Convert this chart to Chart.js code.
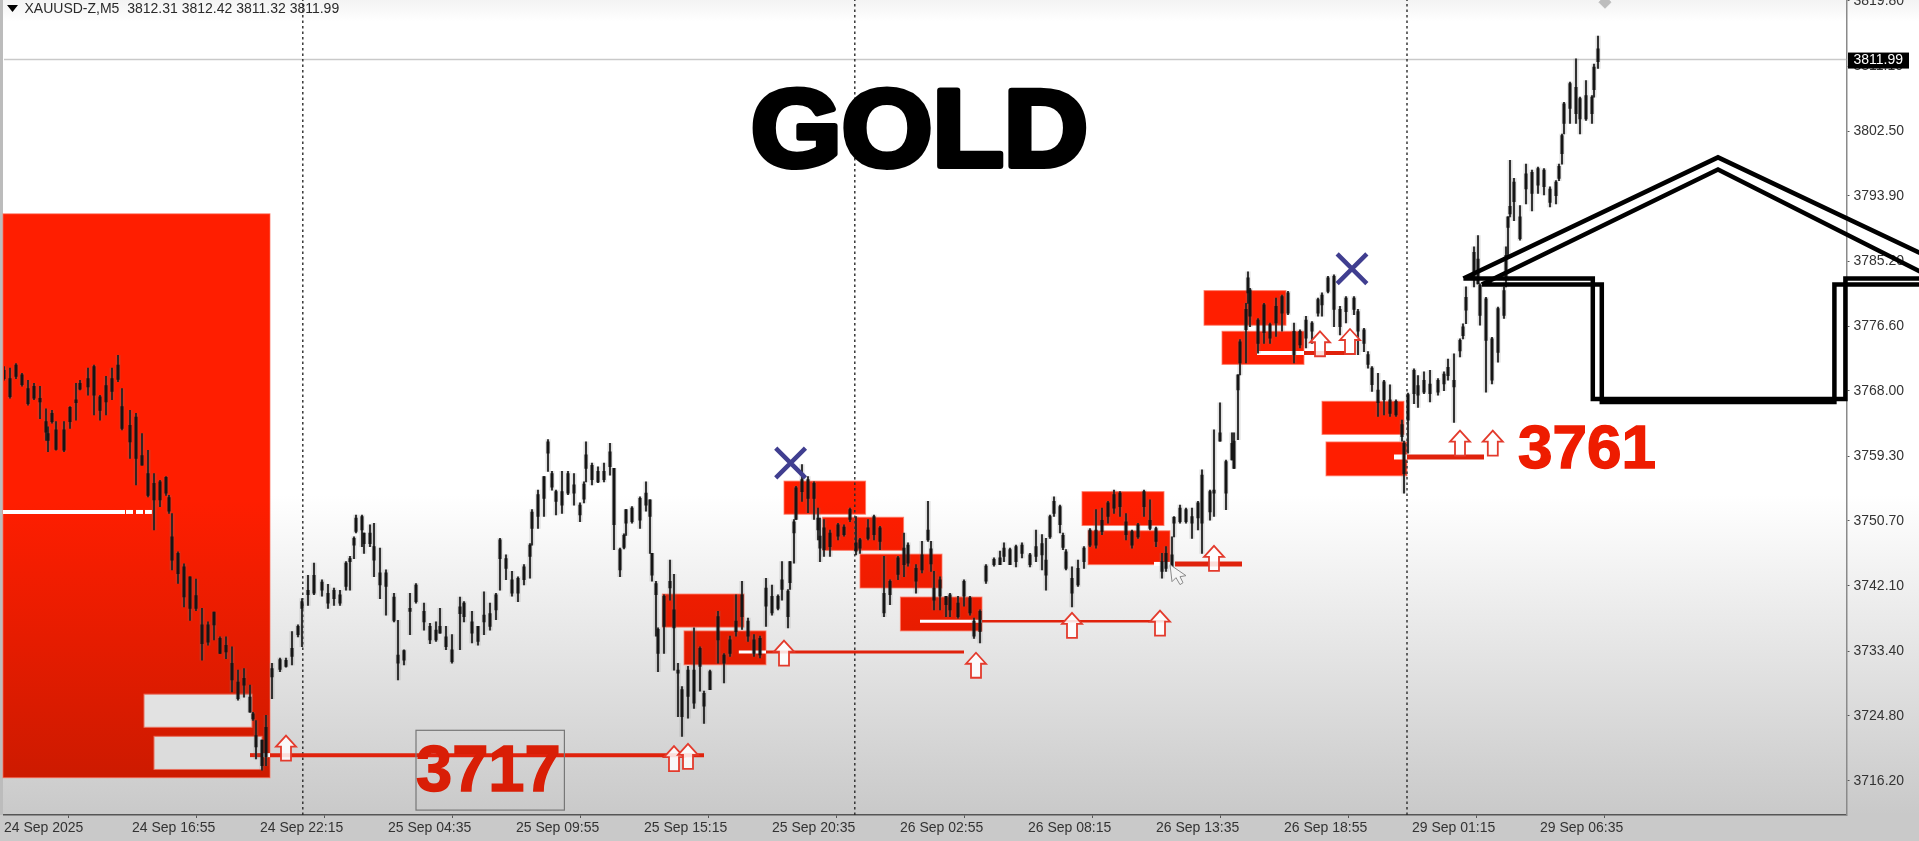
<!DOCTYPE html>
<html><head><meta charset="utf-8"><title>XAUUSD-Z,M5</title>
<style>html,body{margin:0;padding:0;background:#fff}canvas{display:block}</style>
<script src="https://cdn.jsdelivr.net/npm/chart.js@4"></script></head>
<body><canvas id="c" width="1919" height="841"></canvas>
<script>
const candleBars=[0,3,6,9,12,15,18,21,22,24,26,30,33,36,38,42,45,48,51,54,57,59,63,66,69,72,75,78,81,84,87,90,93,96,99,102,105,108,111,114,117,120,123,126,129,131,
134,138,141,144,147,149,152,155,159,162,165,168,171,173,175,176,179,180,183,185,188,191,195,197,200,203,206,210,213,216,218,221,224,228,230,234,237,240,243,246,248,251,254,257,260,263,264,267,270,272,276,279,282,285,288,291,294,297,300,303,305,308,311,314,318,321,323,
326,327,330,333,335,337,339,342,345,348,350,353,357,360,363,366,369,372,375,378,381,384,387,389,392,393,395,396,399,402,405,407,408,410,413,417,420,423,426,428,432,435,438,440,443,447,450,452,456,459,462,465,468,471,473,477,480,483,485,488,491,495,498,500,
503,506,509,513,516,519,521,523,525,528,531,534,537,540,543,546,549,552,555,558,561,564,567,570,573,576,579,581,584,585,588,591,594,597,599,603,605,608,611,614,615,617,618,621,622,623,627,630,633,636,639,642,645,648,651,654,657,659,662,665,668,671,675,677,680,684,687,690,693,696,699,700,702,
705,707,710,713,717,720,722,725,728,731,735,737,738,741,744,747,750,751,752,753,755,758,761,764,767,770,773,776,779,780,783,786,788,791,794,795,797,
324,682,529.5,274,290,310,463.5,124.5,82.5,729.5,777.5];
const candleHighs=[3771.2,3771.0,3771.6,3770.3,3769.4,3769.0,3768.6,3765.6,3763.2,3765.4,3763.9,3763.9,3765.9,3769.0,3769.4,3771.0,3771.4,3767.4,3769.9,3771.0,3772.7,3768.3,3765.4,3765.0,3762.3,3760.1,3757.0,3756.1,3756.6,3751.7,3746.6,3745.0,3743.3,3743.0,3739.1,3737.3,3738.6,3735.3,3735.3,3734.0,3730.9,3731.1,3728.9,3724.2,3721.6,3724.9,
3731.8,3732.5,3732.5,3736.0,3736.9,3740.4,3743.5,3745.1,3742.9,3742.3,3741.8,3741.5,3745.3,3746.0,3748.6,3751.5,3751.5,3749.1,3750.2,3750.4,3747.1,3744.2,3741.1,3737.5,3733.6,3741.1,3742.4,3739.8,3737.1,3737.3,3739.1,3736.7,3735.6,3740.6,3740.0,3738.7,3736.7,3741.3,3739.8,3741.1,3748.4,3746.2,3744.0,3743.3,3744.9,3747.7,3752.2,3754.8,3756.6,3761.5,3754.8,3757.3,3757.3,3757.0,3753.1,3761.2,3758.4,3757.9,3758.4,3761.0,3757.7,3747.1,3752.2,3752.6,3753.9,3755.9,3753.5,
3742.7,3736.5,3740.9,3745.5,3743.6,3731.8,3728.7,3731.4,3736.5,3734.0,3728.1,3730.9,3738.7,3733.1,3735.4,3740.9,3742.7,3737.8,3735.6,3735.4,3743.1,3742.2,3740.9,3745.3,3741.6,3745.3,3750.9,3755.3,3758.2,3756.6,3755.9,3752.4,3751.1,3750.9,3749.5,3750.4,3750.2,3752.4,3751.3,3748.4,3750.9,3751.5,3750.0,3746.0,3742.9,3746.0,3749.1,3747.8,3744.9,3748.0,3753.3,3744.0,3743.3,3740.7,3741.1,3740.7,3742.9,3740.7,3737.8,3738.9,3744.9,3745.8,3746.7,3747.8,
3747.1,3747.5,3747.8,3746.4,3749.5,3748.9,3748.4,3751.5,3753.9,3752.8,3746.9,3744.6,3745.5,3747.3,3749.7,3752.2,3752.4,3753.3,3754.8,3754.6,3751.7,3749.5,3750.4,3754.8,3753.5,3749.9,3746.4,3747.3,3748.6,3751.3,3752.8,3752.4,3752.4,3753.3,3757.5,3754.8,3762.8,3766.4,3758.8,3762.4,3762.4,3770.1,3774.8,3779.6,3783.8,3781.6,3777.6,3779.6,3777.0,3780.3,3780.7,3781.2,3777.0,3776.1,3777.9,3777.2,3780.3,3781.0,3783.2,3783.4,3779.2,3780.5,3780.5,3778.8,3776.3,3771.2,3770.3,3769.4,3768.8,3766.8,3764.1,3761.3,3767.7,
3770.9,3770.0,3770.5,3770.7,3769.6,3770.5,3772.2,3772.9,3774.9,3781.8,3787.1,3788.6,3782.2,3780.4,3775.1,3779.1,3781.8,3787.1,3791.1,3798.6,3796.2,3792.6,3798.1,3797.3,3797.7,3797.5,3795.1,3795.9,3802.1,3806.3,3809.0,3812.1,3807.0,3809.2,3807.2,3811.4,3815.1,
3746.4,3773.2,3749.1,3757.3,3755.9,3749.0,3748.0,3725.3,3754.1,3776.9,3798.1];
const candleLows=[3769.4,3767.0,3769.6,3768.6,3766.1,3766.8,3764.3,3761.4,3759.9,3763.7,3760.1,3759.9,3763.0,3764.1,3768.1,3767.4,3764.8,3764.1,3764.8,3766.8,3769.2,3762.8,3759.0,3755.5,3758.1,3753.9,3749.5,3752.6,3754.1,3744.2,3742.4,3739.3,3737.5,3738.8,3732.2,3734.2,3734.9,3733.1,3732.4,3728.0,3726.9,3727.3,3725.3,3719.1,3717.6,3718.2,
3727.1,3730.7,3731.3,3731.6,3735.3,3734.0,3739.5,3740.9,3740.7,3739.1,3739.5,3739.5,3741.5,3741.5,3745.7,3749.1,3747.3,3746.4,3747.3,3743.3,3740.4,3738.2,3737.3,3729.6,3731.6,3735.6,3739.8,3736.2,3734.4,3734.7,3735.8,3733.6,3731.8,3733.6,3737.3,3734.5,3734.2,3735.6,3736.2,3737.6,3741.5,3742.9,3740.7,3740.0,3742.2,3743.1,3747.5,3749.7,3751.3,3757.3,3751.5,3751.7,3754.2,3752.8,3750.6,3755.9,3755.5,3755.8,3755.9,3756.8,3746.9,3743.3,3748.8,3750.4,3749.7,3752.0,3746.4,
3735.4,3730.7,3733.1,3740.2,3730.9,3724.7,3722.1,3724.5,3725.8,3728.1,3723.8,3728.3,3731.8,3729.2,3732.7,3735.4,3736.3,3734.7,3732.7,3732.5,3736.7,3738.2,3738.9,3740.2,3736.5,3741.6,3745.1,3750.9,3753.3,3751.8,3750.9,3748.2,3745.3,3746.0,3746.0,3748.2,3748.7,3750.6,3746.2,3746.4,3748.2,3748.2,3746.9,3738.0,3739.6,3742.9,3743.3,3744.7,3741.1,3743.8,3748.0,3738.9,3738.9,3738.0,3738.0,3737.8,3739.4,3738.2,3735.1,3734.5,3742.4,3744.7,3744.9,3745.3,
3744.9,3744.6,3745.8,3744.6,3745.3,3744.2,3741.5,3748.4,3751.3,3749.1,3744.2,3739.3,3742.0,3744.4,3747.3,3747.1,3748.9,3750.4,3751.7,3751.3,3748.2,3747.1,3748.4,3751.3,3749.5,3747.3,3743.1,3744.0,3744.4,3748.6,3750.4,3750.4,3748.4,3749.5,3746.4,3750.8,3751.3,3761.3,3752.2,3758.8,3757.7,3761.5,3770.1,3771.7,3779.6,3776.5,3773.0,3774.3,3774.3,3775.2,3775.9,3778.1,3771.7,3773.7,3773.7,3774.3,3777.9,3777.9,3781.0,3776.5,3775.4,3777.0,3778.1,3772.8,3773.2,3767.9,3764.6,3764.8,3764.6,3764.6,3761.3,3754.4,3759.7,
3766.3,3765.8,3767.6,3766.5,3767.4,3768.0,3769.4,3763.8,3772.5,3776.9,3781.8,3782.2,3776.7,3767.8,3768.9,3771.8,3777.6,3781.8,3785.7,3791.1,3790.6,3788.0,3792.8,3791.9,3794.2,3794.0,3792.4,3792.8,3798.1,3802.1,3803.5,3803.5,3802.1,3803.9,3803.5,3807.0,3810.8,
3742.7,3771.0,3746.9,3754.8,3753.1,3747.0,3744.0,3724.2,3751.7,3774.9,3795.9];
const bodyTops=[3770.7,3769.6,3771.4,3770.1,3768.3,3768.6,3767.0,3763.9,3762.3,3765.0,3762.8,3762.8,3765.8,3766.8,3769.0,3769.6,3771.2,3767.2,3768.7,3769.6,3771.4,3765.9,3763.4,3764.5,3759.4,3757.0,3755.7,3755.9,3756.5,3748.6,3746.4,3744.6,3743.3,3740.8,3736.9,3736.9,3738.6,3735.1,3734.2,3731.8,3729.3,3729.8,3727.3,3722.2,3721.6,3723.3,
3731.1,3732.3,3732.2,3733.8,3736.7,3740.0,3741.5,3743.5,3742.6,3741.1,3741.5,3740.9,3745.1,3745.7,3748.4,3751.1,3751.3,3749.1,3749.1,3747.3,3743.8,3743.8,3740.6,3732.9,3733.5,3739.1,3742.2,3738.7,3736.7,3736.2,3736.7,3735.3,3733.6,3739.3,3739.8,3737.3,3736.7,3738.2,3738.4,3740.9,3748.2,3745.7,3742.9,3743.1,3744.6,3747.5,3751.9,3754.2,3756.6,3761.2,3754.6,3754.6,3757.0,3755.5,3752.8,3759.5,3758.1,3757.3,3757.3,3759.9,3757.7,3746.9,3752.2,3752.4,3753.7,3754.4,3753.5,
3742.4,3736.3,3740.7,3742.7,3738.9,3730.9,3728.3,3730.9,3730.9,3733.8,3727.8,3730.7,3738.0,3732.9,3734.9,3737.4,3740.9,3737.4,3734.9,3735.1,3741.8,3740.7,3740.7,3742.9,3741.4,3745.3,3750.6,3755.1,3756.2,3756.2,3755.7,3751.1,3748.7,3749.8,3749.1,3750.2,3749.9,3752.2,3747.8,3748.2,3749.8,3751.3,3749.8,3741.1,3742.7,3745.8,3747.1,3747.5,3744.4,3746.2,3749.5,3741.8,3742.9,3740.7,3740.9,3739.8,3742.7,3740.5,3737.4,3738.7,3744.7,3745.6,3745.8,3747.1,
3746.9,3747.3,3747.5,3746.2,3747.3,3747.7,3745.5,3751.3,3753.3,3752.6,3746.6,3743.1,3744.4,3747.1,3749.5,3749.5,3750.8,3753.1,3754.2,3754.4,3750.6,3749.3,3750.2,3754.6,3750.8,3749.7,3745.3,3746.4,3746.2,3751.2,3752.4,3752.2,3751.3,3753.1,3756.8,3754.6,3754.8,3762.4,3758.6,3761.0,3761.3,3770.1,3774.5,3778.8,3783.0,3781.4,3777.4,3779.4,3776.8,3779.2,3780.5,3781.0,3775.9,3775.9,3777.4,3777.0,3780.1,3780.7,3783.0,3783.2,3778.8,3780.3,3780.3,3778.5,3776.1,3771.0,3768.1,3769.2,3766.8,3766.6,3763.5,3761.0,3767.5,
3770.7,3768.7,3769.4,3768.9,3769.4,3770.2,3771.1,3769.4,3774.7,3780.4,3786.4,3785.5,3782.0,3780.2,3774.9,3778.9,3781.3,3786.0,3791.1,3792.5,3795.7,3791.1,3796.8,3797.0,3797.5,3797.3,3794.8,3795.7,3801.9,3806.1,3808.8,3808.3,3806.8,3807.2,3807.0,3811.0,3813.4,
3746.4,3772.8,3748.8,3757.0,3755.6,3748.8,3747.0,3725.1,3753.8,3776.5,3797.8];
const bodyBottoms=[3769.6,3767.2,3769.9,3768.8,3766.3,3767.0,3766.5,3762.5,3761.4,3763.9,3760.2,3760.1,3763.9,3766.4,3768.2,3768.5,3767.4,3765.4,3766.5,3767.9,3769.5,3763.0,3761.2,3759.0,3758.1,3754.1,3753.5,3753.5,3754.4,3745.5,3743.7,3740.6,3739.1,3739.1,3734.4,3734.6,3736.9,3733.1,3733.3,3729.6,3727.1,3728.9,3725.3,3720.7,3718.2,3719.4,
3730.0,3731.0,3731.4,3732.7,3735.6,3739.1,3740.9,3741.1,3741.5,3739.8,3740.4,3739.8,3742.0,3745.3,3747.5,3749.3,3749.5,3747.7,3747.7,3745.5,3742.2,3742.0,3737.5,3731.8,3732.2,3738.7,3740.0,3737.3,3734.9,3734.9,3735.8,3734.0,3732.0,3738.4,3738.0,3735.8,3734.7,3737.3,3736.7,3738.9,3745.7,3744.4,3741.1,3741.1,3742.9,3746.0,3749.7,3751.3,3753.7,3759.7,3753.3,3752.8,3754.4,3754.4,3751.5,3757.7,3756.2,3755.9,3756.2,3757.9,3750.2,3744.2,3750.4,3750.6,3750.8,3752.8,3751.3,
3740.9,3733.1,3736.7,3741.8,3736.5,3730.5,3724.7,3727.4,3726.5,3731.4,3726.1,3728.3,3734.9,3731.8,3733.1,3736.0,3738.0,3735.4,3733.1,3732.9,3739.4,3738.5,3739.1,3741.6,3738.0,3742.5,3749.1,3750.9,3754.6,3753.7,3753.7,3749.5,3747.1,3746.9,3747.3,3748.7,3748.9,3750.9,3746.7,3747.1,3748.4,3748.9,3748.0,3738.5,3740.9,3743.6,3744.9,3745.1,3742.7,3744.2,3748.2,3740.2,3740.7,3739.6,3738.9,3738.0,3740.7,3738.5,3735.4,3736.0,3742.7,3744.9,3744.9,3746.0,
3744.9,3745.3,3746.4,3744.9,3746.0,3746.2,3743.5,3748.6,3751.7,3750.2,3744.4,3741.1,3742.2,3745.3,3747.5,3747.5,3749.3,3751.3,3752.4,3752.6,3748.9,3747.5,3748.6,3752.6,3749.7,3748.0,3744.0,3744.4,3744.6,3750.4,3750.6,3750.6,3750.4,3751.1,3750.4,3751.9,3754.4,3761.3,3754.4,3758.8,3757.7,3768.1,3771.7,3776.1,3781.0,3777.9,3774.3,3775.7,3775.0,3777.0,3778.3,3778.3,3772.8,3774.1,3775.0,3775.9,3778.3,3779.4,3781.2,3778.8,3776.5,3778.5,3778.8,3775.9,3774.3,3768.8,3766.4,3766.8,3765.0,3764.8,3761.9,3757.0,3764.1,
3767.6,3767.4,3767.8,3767.6,3767.8,3768.9,3770.0,3768.5,3773.3,3778.7,3783.1,3782.2,3778.0,3774.7,3769.4,3773.1,3778.0,3783.0,3789.7,3791.5,3793.1,3788.2,3794.8,3794.2,3795.3,3795.1,3793.0,3793.9,3799.5,3803.5,3805.5,3804.8,3804.1,3804.1,3804.8,3808.0,3811.7,
3743.5,3771.5,3747.2,3755.2,3753.6,3747.2,3745.0,3724.4,3752.0,3775.3,3796.2];

const priceTicks=[3716.2,3724.8,3733.4,3742.1,3750.7,3759.3,3768,3776.6,3785.2,3793.9,3802.5,3811.1,3819.8];
const timeTickBars=[0,64,128,192,256,320,384,448,512,576,640,704,768];
const timeTickLabels=['24 Sep 2025','24 Sep 16:55','24 Sep 22:15','25 Sep 04:35','25 Sep 09:55','25 Sep 15:15','25 Sep 20:35','26 Sep 02:55','26 Sep 08:15','26 Sep 13:35','26 Sep 18:55','29 Sep 01:15','29 Sep 06:35'];
const headerText='XAUUSD-Z,M5  3812.31 3812.42 3811.32 3811.99';
const lastPrice=3811.99;

// rectangles: [barStart, barEnd, priceTop, priceBottom]
const mainZone=[-0.5,133,3791.5,3716.6];
const redZones=[[329.2,370,3741.0,3736.6],[340,381,3736.1,3731.6],[390,430.8,3756.0,3751.6],[409.3,449.8,3751.2,3746.8],[428,469,3746.3,3741.8],[448.2,489,3740.6,3736.1],[539,580,3754.6,3750.1],[542,583,3749.4,3744.9],[600,641,3781.3,3776.7],[609,650,3775.9,3771.5],[659,700,3766.6,3762.2],[661,701.5,3761.2,3756.7]];
const paleZones=[[70,124,3727.7,3723.3],[75,129,3722.1,3717.7]];
// level lines: [barStart, barEnd, price, width]
const redLevels=[[123,129,3719.6,4],[133,350,3719.6,4],[381,480,3733.3,3],[489,581,3737.4,2.5],[585.5,619,3745.0,5],[650,671,3773.0,4],[701.5,740,3759.2,5]];
const whiteLevels=[[-0.5,60.5,3751.9,4],[61,64.5,3751.9,4],[66,69.5,3751.9,4],[70.5,74,3751.9,4],[129,133,3719.6,4],[367.4,381,3733.3,3],[458,489,3737.4,3],[575,583,3745.0,4],[626.5,650,3773.0,4],[695,701.5,3759.2,5]];
const dottedBars=[149.4,425.4,701.5];
const arrowBars=[141,335,342,390,486,534,578,605,658,673,728,744.4];
const arrowTips=[3722.2,3720.8,3721.1,3734.8,3733.2,3738.5,3738.8,3747.4,3775.9,3776.2,3762.7,3762.7];
const crossBars=[393.3,674];
const crossPrices=[3758.4,3784.2];
const houseOuterBars=[729.7,857,960.5,null,729.7,794.4,794.4,920.7,920.7,963];
const houseOuterPrices=[3782.9,3799.0,3786.0,null,3782.9,3782.9,3766.9,3766.9,3782.9,3782.9];
const houseInnerBars=[738.9,857,960.5,null,738.9,798.9,798.9,915.2,915.2,963];
const houseInnerPrices=[3782.1,3797.4,3783.5,null,3782.1,3782.1,3766.5,3766.5,3782.1,3782.1];
const boxedLabel={text:'3717',bar:206,price:3714.8};
const boxBars=[206,280.2];
const boxPrices=[3722.9,3712.3];
const plainLabel={text:'3761',bar:757,price:3757.7};

const XMIN=0, XMAX=921.25, YMIN=3711.65, YMAX=3819.9;
const zip=(xs,ys)=>xs.map((x,i)=>({x,y:ys[i]}));
function seg(a,color,order,dash){return {type:'scatter',showLine:true,data:[{x:a[0],y:a[2]},{x:a[1],y:a[2]}],borderColor:color,borderWidth:a[3],pointRadius:0,order,clip:false,borderDash:dash||[],borderCapStyle:'butt'};}
function poly(xs,ys){return {type:'scatter',showLine:true,spanGaps:false,data:zip(xs,ys),borderColor:'#000',borderWidth:4.5,pointRadius:0,order:10,clip:false,tension:0,borderJoinStyle:'miter'};}

const datasets=[
 {type:'bar',label:'bodies',data:candleBars.map((x,i)=>({x,y:[bodyBottoms[i],bodyTops[i]]})),backgroundColor:'#151515',barThickness:2.4,grouped:false,order:49},
 {type:'bar',label:'wicks',data:candleBars.map((x,i)=>({x,y:[candleLows[i],candleHighs[i]]})),backgroundColor:'#262626',barThickness:1.2,grouped:false,order:50},
 {type:'bar',label:'blur',data:candleBars.map((x,i)=>({x,y:[candleLows[i],candleHighs[i]]})),backgroundColor:'rgba(120,120,120,.22)',barThickness:4.5,grouped:false,order:51},
 ...whiteLevels.map(a=>seg(a,'#ffffff',60)),
 ...redLevels.map(a=>seg(a,'#e0220c',61)),
 ...dottedBars.map(b=>({type:'scatter',showLine:true,data:[{x:b,y:YMIN},{x:b,y:YMAX}],borderColor:'#2a2a2a',borderWidth:1.4,borderDash:[2.5,3],pointRadius:0,order:70})),
 {type:'scatter',showLine:true,data:[{x:XMIN,y:lastPrice},{x:XMAX,y:lastPrice}],borderColor:'#c9c9c9',borderWidth:1.5,pointRadius:0,order:71},
 poly(houseOuterBars,houseOuterPrices),
 poly(houseInnerBars,houseInnerPrices),
 {type:'scatter',data:zip(crossBars,crossPrices),pointStyle:'crossRot',pointRadius:21,pointBorderWidth:4.5,pointBorderColor:'#403e90',borderColor:'#403e90',backgroundColor:'#403e90',order:12,clip:false},
 {type:'scatter',data:[{x:800.5,y:3819.6}],pointStyle:'rectRot',pointRadius:6,backgroundColor:'#bdbdbd',borderColor:'#bdbdbd',order:13,clip:false}
];

const overlay={id:'overlay',
 beforeDraw(ch){const c=ch.ctx,g=c.createLinearGradient(0,0,0,841);
  g.addColorStop(0,'#f3f3f3');g.addColorStop(22/841,'#ffffff');g.addColorStop(495/841,'#ffffff');g.addColorStop(815/841,'#c9c9c9');g.addColorStop(1,'#c9c9c9');
  c.save();c.fillStyle=g;c.fillRect(0,0,1919,841);c.fillStyle='#bcbcbc';c.fillRect(0,0,3,815);c.restore();},
 beforeDatasetsDraw(ch){const c=ch.ctx,X=ch.scales.x,Y=ch.scales.y;
  const g=c.createLinearGradient(0,500,0,778);g.addColorStop(0,'#ff1e00');g.addColorStop(1,'#cd1a00');
  const rect=(a,fill,edge)=>{const x=X.getPixelForValue(a[0]),w=X.getPixelForValue(a[1])-x,y=Y.getPixelForValue(a[2]),h=Y.getPixelForValue(a[3])-y;
   c.fillStyle=fill;c.fillRect(x,y,w,h);c.strokeStyle=edge;c.lineWidth=1;c.strokeRect(x,y,w,h);};
  c.save();rect(mainZone,g,'rgba(255,110,90,.7)');
  redZones.forEach(z=>rect(z,g,'rgba(255,120,100,.8)'));
  paleZones.forEach((z,i)=>rect(z,i?'#dcdcdc':'#e2e2e2','#e8705e'));c.restore();},
 afterDatasetsDraw(ch){const c=ch.ctx,X=ch.scales.x,Y=ch.scales.y;c.save();
  const bx=X.getPixelForValue(boxBars[0]),bw=X.getPixelForValue(boxBars[1])-bx,by=Y.getPixelForValue(boxPrices[0]),bh=Y.getPixelForValue(boxPrices[1])-by;
  c.strokeStyle='#777';c.lineWidth=1.2;c.strokeRect(bx,by,bw,bh);
  c.textBaseline='alphabetic';c.textAlign='left';
  c.font='bold 65px "Liberation Sans"';c.fillStyle='#d91e06';c.strokeStyle='#d91e06';c.lineWidth=1.5;
  const bl=X.getPixelForValue(boxedLabel.bar),bb=Y.getPixelForValue(boxedLabel.price);
  c.strokeText(boxedLabel.text,bl,bb);c.fillText(boxedLabel.text,bl,bb);
  c.font='bold 62px "Liberation Sans"';c.fillStyle='#ee1c00';c.strokeStyle='#ee1c00';
  const pl=X.getPixelForValue(plainLabel.bar),pb=Y.getPixelForValue(plainLabel.price);
  c.strokeText(plainLabel.text,pl,pb);c.fillText(plainLabel.text,pl,pb);
  c.save();c.translate(919.5,165.5);c.scale(1.06,1);c.textAlign='center';c.font='bold 110px "Liberation Sans"';c.lineJoin='round';c.lineWidth=6;c.strokeStyle='#000';c.fillStyle='#000';
  c.strokeText('GOLD',0,0);c.fillText('GOLD',0,0);c.restore();
  arrowBars.forEach((b,i)=>{const x=X.getPixelForValue(b),y=Y.getPixelForValue(arrowTips[i]);
   c.beginPath();c.moveTo(x,y);c.lineTo(x+10,y+11);c.lineTo(x+5,y+11);c.lineTo(x+5,y+25);c.lineTo(x-5,y+25);c.lineTo(x-5,y+11);c.lineTo(x-10,y+11);c.closePath();
   c.fillStyle='rgba(255,255,255,.85)';c.fill();c.strokeStyle='#e33a2c';c.lineWidth=1.8;c.stroke();});
  const mx=X.getPixelForValue(583),my=Y.getPixelForValue(3744.9);
  c.beginPath();c.moveTo(mx,my);c.lineTo(mx+2,my+17);c.lineTo(mx+6,my+13);c.lineTo(mx+10,my+20);c.lineTo(mx+13,my+18);c.lineTo(mx+10,my+12);c.lineTo(mx+16,my+11);c.closePath();
  c.fillStyle='#f5f5f5';c.fill();c.strokeStyle='#8a8a8a';c.lineWidth=1;c.stroke();
  const ly=Y.getPixelForValue(lastPrice);
  c.fillStyle='#000';c.fillRect(1848,ly-7,61,16);c.fillStyle='#fff';c.textAlign='left';c.textBaseline='middle';c.font='14px "Liberation Sans"';c.fillText(lastPrice.toFixed(2),1853.5,ly+1);
  c.fillStyle='#000';c.beginPath();c.moveTo(7,5);c.lineTo(18,5);c.lineTo(12.5,12);c.closePath();c.fill();
  c.fillStyle='#2a2a2a';c.font='14px "Liberation Sans"';c.fillText(headerText,24.5,9);
  c.restore();}
};

new Chart(document.getElementById('c'),{
 data:{datasets},
 plugins:[overlay],
 options:{responsive:false,animation:false,
  layout:{autoPadding:false,padding:{left:4,right:0,top:0,bottom:0}},
  plugins:{legend:{display:false},tooltip:{enabled:false},title:{display:false}},
  events:[],
  scales:{
   x:{type:'linear',min:XMIN,max:XMAX,offset:false,
     afterBuildTicks:s=>{s.ticks=timeTickBars.map(value=>({value}));},
     afterFit:s=>{s.height=26;s.paddingLeft=0;s.paddingRight=0;},
     grid:{drawOnChartArea:false,drawTicks:true,tickLength:3,color:'#555'},
     border:{display:true,color:'#555',width:1.5},
     ticks:{autoSkip:false,maxRotation:0,minRotation:0,align:'start',padding:2,color:'#333',font:{family:'"Liberation Sans"',size:14},
       callback:(v,i)=>timeTickLabels[i]}},
   y:{type:'linear',position:'right',min:YMIN,max:YMAX,
     afterBuildTicks:s=>{s.ticks=priceTicks.map(value=>({value}));},
     afterFit:s=>{s.width=72.5;s.paddingTop=0;s.paddingBottom=0;},
     grid:{drawOnChartArea:false,drawTicks:true,tickLength:3,color:'#555'},
     border:{display:true,color:'#8a8a8a',width:1.5},
     ticks:{padding:4,color:'#333',font:{family:'"Liberation Sans"',size:14},callback:v=>v.toFixed(2)}}
  }}
});
</script></body></html>
